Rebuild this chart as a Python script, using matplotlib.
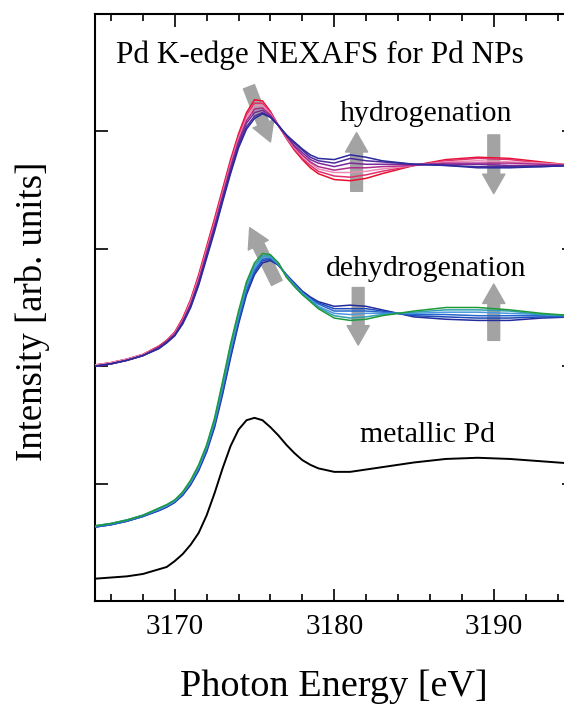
import matplotlib
matplotlib.use("Agg")
import matplotlib.pyplot as plt
from matplotlib.ticker import MultipleLocator

plt.rcParams['font.family'] = ['Liberation Serif', 'DejaVu Serif']

# photon energy grid [eV] shared by all spectra
energy = [3165, 3166, 3167, 3168, 3169, 3169.5, 3170, 3170.5, 3171, 3171.5,
          3172, 3172.5, 3173, 3173.5, 3174, 3174.5, 3175, 3175.5, 3176, 3176.5,
          3177, 3177.5, 3178, 3178.5, 3179, 3180, 3181, 3182, 3183, 3185,
          3187, 3189, 3191, 3193, 3195]

# metallic Pd reference
metallic = [0.19, 0.20, 0.21, 0.23, 0.27, 0.29, 0.34, 0.40, 0.48, 0.58,
            0.73, 0.92, 1.13, 1.32, 1.46, 1.54, 1.56, 1.54, 1.48, 1.41,
            1.33, 1.26, 1.20, 1.16, 1.13, 1.10, 1.10, 1.12, 1.14, 1.18,
            1.21, 1.22, 1.21, 1.19, 1.17]

# hydrogenation series (red -> navy)
hydro = [
    [2.01, 2.03, 2.06, 2.10, 2.17, 2.22, 2.29, 2.41, 2.57, 2.78, 3.02, 3.26, 3.51, 3.76, 3.98, 4.16, 4.27, 4.26,
     4.17, 4.05, 3.94, 3.84, 3.76, 3.69, 3.64, 3.59, 3.58, 3.60, 3.64, 3.71, 3.76, 3.78, 3.77, 3.74, 3.71],
    [2.01, 2.03, 2.06, 2.10, 2.17, 2.22, 2.29, 2.40, 2.56, 2.76, 3.00, 3.24, 3.49, 3.74, 3.96, 4.14, 4.24, 4.24,
     4.16, 4.05, 3.95, 3.85, 3.77, 3.71, 3.66, 3.62, 3.61, 3.63, 3.66, 3.71, 3.75, 3.77, 3.76, 3.73, 3.71],
    [2.01, 2.03, 2.06, 2.10, 2.16, 2.21, 2.28, 2.39, 2.55, 2.75, 2.99, 3.22, 3.47, 3.72, 3.94, 4.11, 4.22, 4.22,
     4.15, 4.05, 3.95, 3.86, 3.79, 3.73, 3.68, 3.65, 3.65, 3.66, 3.68, 3.71, 3.74, 3.75, 3.74, 3.73, 3.71],
    [2.00, 2.02, 2.05, 2.09, 2.16, 2.21, 2.27, 2.38, 2.53, 2.73, 2.97, 3.20, 3.45, 3.70, 3.92, 4.09, 4.19, 4.20,
     4.14, 4.05, 3.96, 3.87, 3.80, 3.74, 3.70, 3.67, 3.69, 3.69, 3.70, 3.71, 3.73, 3.73, 3.73, 3.72, 3.71],
    [2.00, 2.02, 2.05, 2.09, 2.16, 2.21, 2.27, 2.38, 2.52, 2.72, 2.95, 3.19, 3.44, 3.68, 3.90, 4.07, 4.16, 4.18,
     4.13, 4.05, 3.96, 3.88, 3.82, 3.76, 3.73, 3.70, 3.73, 3.72, 3.72, 3.72, 3.72, 3.72, 3.71, 3.71, 3.71],
    [2.00, 2.02, 2.05, 2.09, 2.15, 2.20, 2.26, 2.37, 2.51, 2.70, 2.94, 3.17, 3.42, 3.66, 3.88, 4.04, 4.13, 4.16,
     4.12, 4.05, 3.97, 3.90, 3.84, 3.78, 3.75, 3.73, 3.77, 3.75, 3.74, 3.72, 3.71, 3.70, 3.70, 3.70, 3.71],
    [2.00, 2.02, 2.05, 2.09, 2.15, 2.20, 2.26, 2.36, 2.50, 2.69, 2.92, 3.15, 3.40, 3.64, 3.86, 4.02, 4.11, 4.15,
     4.12, 4.05, 3.97, 3.91, 3.85, 3.80, 3.77, 3.76, 3.80, 3.78, 3.75, 3.72, 3.71, 3.69, 3.69, 3.70, 3.71],
]
hydro_colors = ['#e8102e', '#e0306e', '#ec8cb4', '#b02a8c', '#7c2a98', '#4c2a9c', '#2a2a9c']

# dehydrogenation series (navy -> green)
dehydro = [
    [0.63, 0.65, 0.68, 0.72, 0.77, 0.80, 0.84, 0.90, 0.99, 1.11, 1.27, 1.48, 1.76, 2.07, 2.36, 2.61, 2.78, 2.88,
     2.90, 2.86, 2.78, 2.71, 2.64, 2.59, 2.55, 2.51, 2.52, 2.51, 2.48, 2.42, 2.40, 2.39, 2.39, 2.41, 2.42],
    [0.63, 0.65, 0.68, 0.72, 0.77, 0.80, 0.84, 0.91, 1.00, 1.12, 1.28, 1.50, 1.78, 2.09, 2.38, 2.63, 2.80, 2.90,
     2.91, 2.86, 2.78, 2.70, 2.63, 2.58, 2.54, 2.49, 2.49, 2.49, 2.47, 2.43, 2.42, 2.41, 2.41, 2.42, 2.42],
    [0.63, 0.65, 0.68, 0.72, 0.78, 0.81, 0.85, 0.91, 1.01, 1.13, 1.29, 1.51, 1.80, 2.12, 2.40, 2.65, 2.82, 2.91,
     2.92, 2.87, 2.77, 2.70, 2.63, 2.57, 2.53, 2.47, 2.47, 2.47, 2.46, 2.44, 2.44, 2.43, 2.43, 2.43, 2.42],
    [0.64, 0.66, 0.69, 0.73, 0.78, 0.81, 0.85, 0.92, 1.01, 1.14, 1.31, 1.53, 1.83, 2.14, 2.43, 2.68, 2.84, 2.93,
     2.93, 2.87, 2.77, 2.69, 2.62, 2.57, 2.51, 2.45, 2.44, 2.45, 2.45, 2.45, 2.46, 2.46, 2.45, 2.44, 2.43],
    [0.64, 0.66, 0.69, 0.73, 0.79, 0.82, 0.86, 0.92, 1.02, 1.15, 1.32, 1.54, 1.85, 2.17, 2.45, 2.70, 2.86, 2.94,
     2.94, 2.88, 2.76, 2.68, 2.61, 2.56, 2.50, 2.43, 2.41, 2.42, 2.44, 2.46, 2.48, 2.48, 2.47, 2.44, 2.43],
    [0.64, 0.66, 0.69, 0.73, 0.79, 0.82, 0.86, 0.93, 1.03, 1.16, 1.33, 1.56, 1.87, 2.19, 2.47, 2.72, 2.88, 2.96,
     2.95, 2.88, 2.76, 2.68, 2.61, 2.55, 2.49, 2.41, 2.39, 2.40, 2.43, 2.47, 2.50, 2.50, 2.48, 2.45, 2.43],
]
dehydro_colors = ['#222c9c', '#1f48b8', '#2366cc', '#4a98e2', '#2f9fb0', '#1f9a3a']

x_ticks = [3170, 3180, 3190]
y_ticks = [1, 2, 3, 4]


def gray_arrow(ax, tail, tip):
    ax.annotate('', xy=tip, xytext=tail, zorder=1,
                arrowprops=dict(arrowstyle='simple,head_length=1.4,head_width=1.6,tail_width=0.85',
                                color='#a3a3a3', shrinkA=0, shrinkB=0, mutation_scale=10))


fig = plt.figure(figsize=(5.64, 7.05), dpi=100)
ax = fig.add_axes([95 / 564, 104 / 705, 478.5 / 564, 587 / 705])

for vals, c in zip(hydro, hydro_colors):
    ax.plot(energy, vals, color=c, lw=1.1, zorder=3, solid_joinstyle='round')
for vals, c in zip(dehydro, dehydro_colors):
    ax.plot(energy, vals, color=c, lw=1.1, zorder=3, solid_joinstyle='round')
ax.plot(energy, metallic, color='black', lw=1.4, zorder=3, solid_joinstyle='round')

# grey arrows showing the trend
gray_arrow(ax, (3174.65, 4.38), (3176.0, 3.91))
gray_arrow(ax, (3181.4, 3.49), (3181.4, 3.99))
gray_arrow(ax, (3190.0, 3.97), (3190.0, 3.47))
gray_arrow(ax, (3176.4, 2.71), (3174.7, 3.18))
gray_arrow(ax, (3181.5, 2.67), (3181.5, 2.18))
gray_arrow(ax, (3190.0, 2.22), (3190.0, 2.70))

ax.text(3166.3, 4.58, 'Pd K-edge NEXAFS for Pd NPs', fontsize=22.5, va='baseline')
ax.text(3180.36, 4.09, 'hydrogenation', fontsize=21.5, va='baseline')
ax.text(3179.48, 2.77, 'dehydrogenation', fontsize=21.5, va='baseline')
ax.text(3181.6, 1.356, 'metallic Pd', fontsize=21.5, va='baseline')

ax.set_xlim(3165, 3195)
ax.set_ylim(0, 5)
ax.set_xticks(x_ticks)
ax.xaxis.set_minor_locator(MultipleLocator(2))
ax.set_yticks(y_ticks)
ax.set_yticklabels([])
ax.tick_params(which='both', direction='in', top=True, right=True, width=1.2)
ax.tick_params(which='major', length=9, labelsize=21, pad=9)
ax.tick_params(which='minor', length=5)
for s in ax.spines.values():
    s.set_linewidth(1.5)

fig.text(334 / 564, 9 / 705, 'Photon Energy [eV]', fontsize=27.5, ha='center', va='baseline')
fig.text(42 / 564, 1 - 311 / 705, 'Intensity [arb. units]', fontsize=26.5, rotation=90,
         rotation_mode='anchor', ha='center', va='baseline')

fig.savefig('out.png', dpi=100)
